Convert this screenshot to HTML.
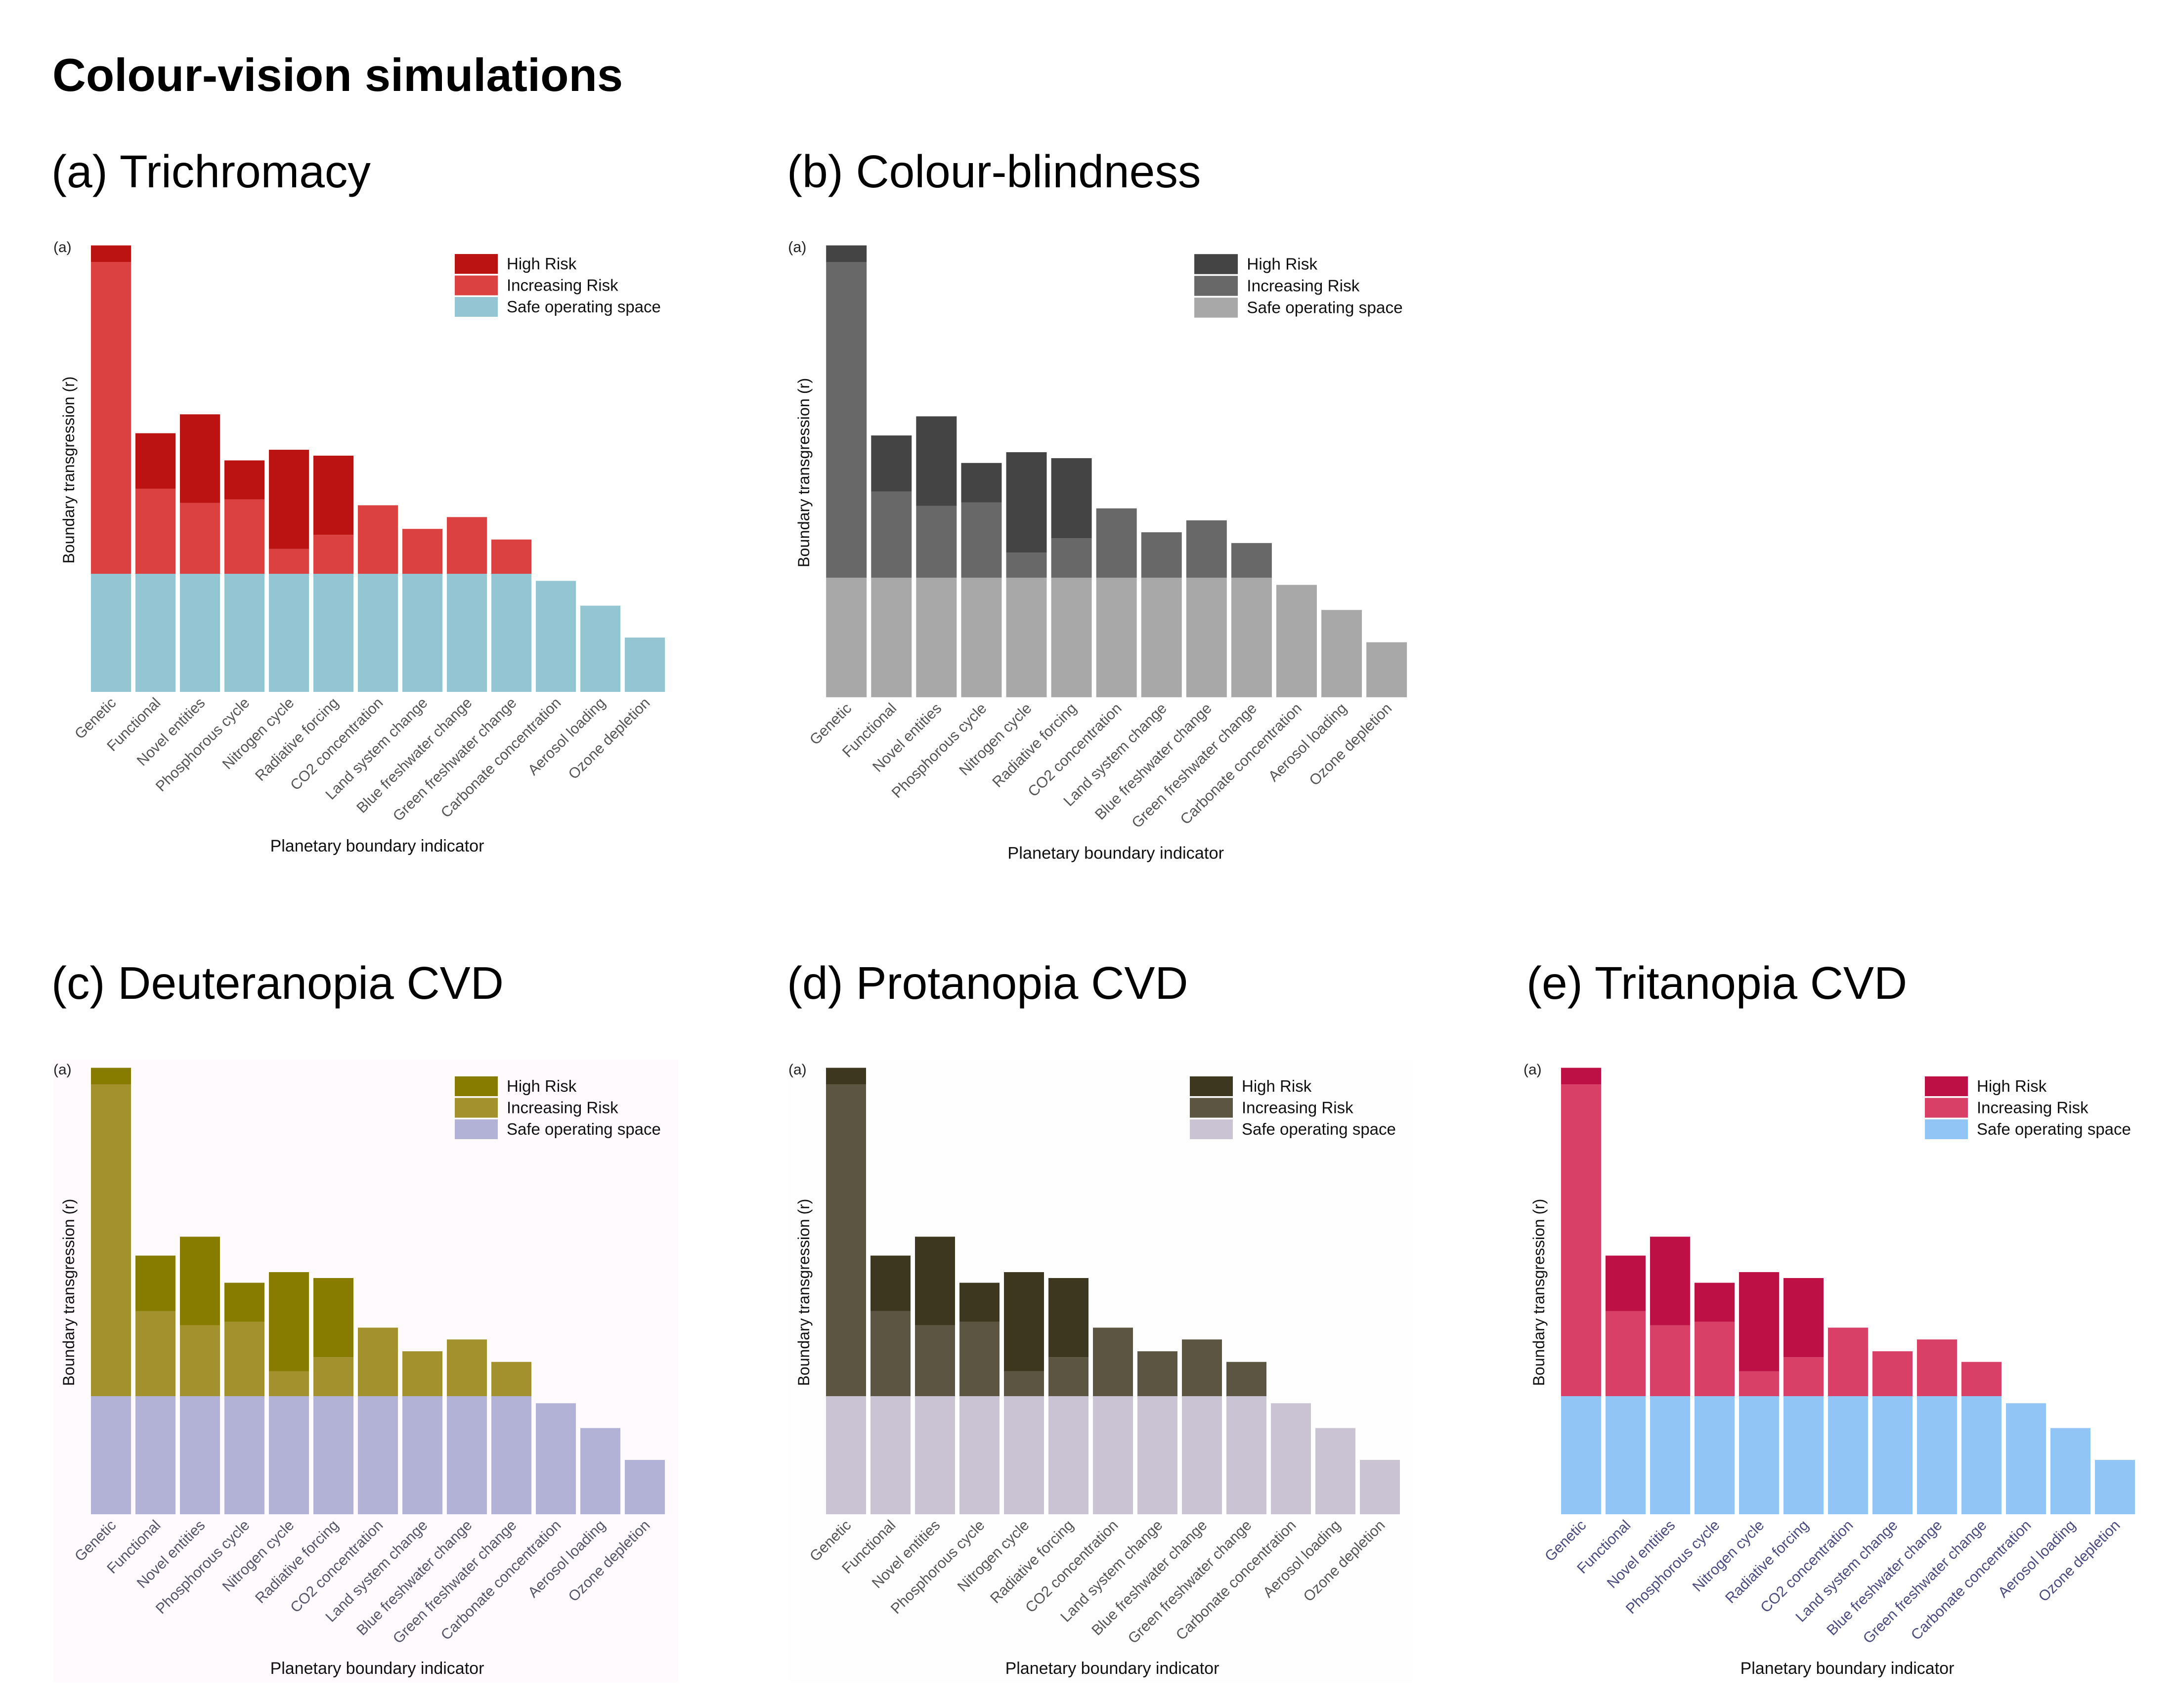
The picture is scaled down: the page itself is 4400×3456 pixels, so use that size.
<!DOCTYPE html>
<html><head><meta charset="utf-8"><style>
html,body{margin:0;padding:0;background:#fff;}
svg{display:block;font-family:"Liberation Sans",Arial,sans-serif;}
</style></head><body>
<svg id="root" width="4400" height="3456" viewBox="0 0 4400 3456">
<rect x="0" y="0" width="4400" height="3456" fill="#fff"/>
<text x="106" y="184" font-size="94" font-weight="bold" fill="#000">Colour-vision simulations</text>
<text x="104" y="379" font-size="93" fill="#000">(a) Trichromacy</text>
<text x="1592" y="379" font-size="93" fill="#000">(b) Colour-blindness</text>
<text x="104" y="2021" font-size="93" fill="#000">(c) Deuteranopia CVD</text>
<text x="1592" y="2021" font-size="93" fill="#000">(d) Protanopia CVD</text>
<text x="3088" y="2021" font-size="93" fill="#000">(e) Tritanopia CVD</text>
</svg>
<script>
const categories = ["Genetic","Functional","Novel entities","Phosphorous cycle","Nitrogen cycle","Radiative forcing","CO2 concentration","Land system change","Blue freshwater change","Green freshwater change","Carbonate concentration","Aerosol loading","Ozone depletion"];
const totalValues = [3.78,2.19,2.35,1.96,2.05,2.00,1.58,1.38,1.48,1.29,0.94,0.73,0.46];
const increasingTops = [3.64,1.72,1.60,1.63,1.21,1.33,1.58,1.38,1.48,1.29,0.94,0.73,0.46];
const safeBoundary = [1,1,1,1,1,1,1,1,1,1,1,1,1];
const legendLabels = ["High Risk","Increasing Risk","Safe operating space"];

const NS = "http://www.w3.org/2000/svg";
const root = document.getElementById('root');
function mk(tag, attrs, parent){ const e=document.createElementNS(NS,tag); for(const k in attrs) e.setAttribute(k,attrs[k]); parent.appendChild(e); return e; }

const X0 = 184, PITCH = 90, BW = 81, BASE = 1400, UNIT = 239;
function xPos(i){ return X0 + i*PITCH; }
function yPos(v){ return BASE - v*UNIT; }

const panels = [
  {id:'a', tx:0, ty:0, s:1, high:'#bb1212', inc:'#db4140', safe:'#93c5d3', tick:'#555', bg:null},
  {id:'b', tx:1485, ty:-6, s:1.012, high:'#444444', inc:'#686868', safe:'#a8a8a8', tick:'#555', bg:null},
  {id:'c', tx:0, ty:1664, s:1, high:'#877b00', inc:'#a2912c', safe:'#b2b2d6', tick:'#55556a', bg:'#fffafd'},
  {id:'d', tx:1487, ty:1664, s:1, high:'#3c371e', inc:'#5c5542', safe:'#c9c3d3', tick:'#555', bg:'#fefefe'},
  {id:'e', tx:2974, ty:1664, s:1, high:'#bd1145', inc:'#d84068', safe:'#90c5f5', tick:'#4b4b80', bg:null}
];

panels.forEach(p => {
  const g = mk('g', {transform:`translate(${p.tx},${p.ty}) scale(${p.s})`}, root);
  
  
  if (p.bg) {
    const bg = mk('rect', {x:108, y:480, width:1264, height:1261, fill:p.bg}, g);
    
    
  }
  categories.forEach((c, i) => {
    const tot = totalValues[i], incT = increasingTops[i], sb = safeBoundary[i];
    const safeTop = Math.min(tot, sb);
    const r1 = mk('rect', {x:xPos(i), y:yPos(safeTop), width:BW, height:yPos(0)-yPos(safeTop), fill:p.safe}, g);
    
    
    if (incT > sb) {
      const r2 = mk('rect', {x:xPos(i), y:yPos(incT), width:BW, height:yPos(sb)-yPos(incT), fill:p.inc}, g);
      
      
    }
    if (tot > incT) {
      const r3 = mk('rect', {x:xPos(i), y:yPos(tot), width:BW, height:yPos(incT)-yPos(tot), fill:p.high}, g);
      
      
    }
    const cx = xPos(i) + BW/2 + 12, cy = BASE + 24;
    const t = mk('text', {x:cx, y:cy, 'font-size':30, fill:p.tick, 'text-anchor':'end', transform:`rotate(-45 ${cx} ${cy})`}, g);
    t.textContent = c;
    
    
  });
  const sub = mk('text', {x:108, y:510, 'font-size':30, fill:'#222'}, g);
  sub.textContent = '(a)';
  
  
  const yl = mk('text', {x:150, y:951, 'font-size':32, fill:'#111', 'text-anchor':'middle', transform:'rotate(-90 150 951)'}, g);
  yl.textContent = 'Boundary transgression (r)';
  
  
  const xl = mk('text', {x:763, y:1723, 'font-size':34, fill:'#111', 'text-anchor':'middle'}, g);
  xl.textContent = 'Planetary boundary indicator';
  
  
  const cols = [p.high, p.inc, p.safe];
  legendLabels.forEach((lab, k) => {
    const y = 514 + k*43.5;
    const b = mk('rect', {x:920, y:y, width:87, height:40, fill:cols[k]}, g);
    
    
    const lt = mk('text', {x:1025, y:y+31, 'font-size':33, fill:'#111'}, g);
    lt.textContent = lab;
    
    
  });
});
</script>
</body></html>
